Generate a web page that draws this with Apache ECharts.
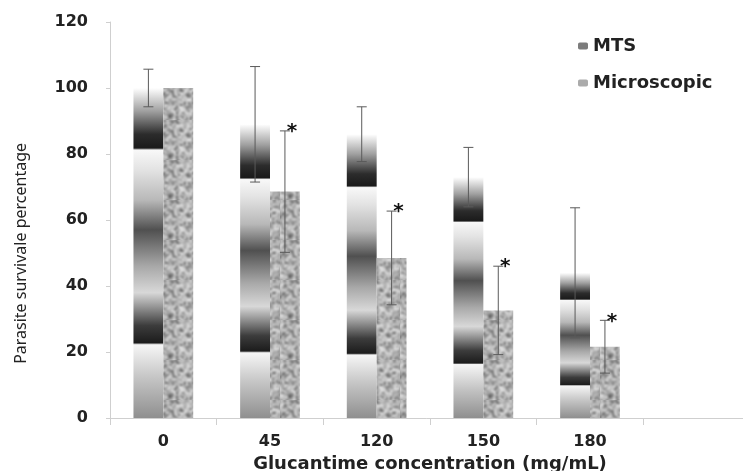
<!DOCTYPE html>
<html>
<head>
<meta charset="utf-8">
<script src="https://cdn.jsdelivr.net/npm/echarts@6/dist/echarts.min.js"></script>
<style>html,body{margin:0;padding:0;background:#fff}#c{width:743px;height:471px}</style>
</head>
<body>
<div id="c"></div>
<script>
// ---- data ----
var categories = ['0', '45', '120', '150', '180', ''];
var mtsValues = [100, 89, 86, 73, 44];
var mtsSD = [5.7, 17.5, 8.3, 9, 19.7];
var microValues = [100, 68.6, 48.5, 32.6, 21.6];
var microSD = [0, 18.4, 14.2, 13.4, 8];
var microSignificant = [false, true, true, true, true];
var yTicks = { min: 0, max: 120, interval: 20 };

// ---- styles ----
var CAT_GAP = 0.44;
var mtsGradient = {
  type: 'linear', x: 0, y: 1, x2: 0, y2: 0,
  colorStops: [
    { offset: 0, color: '#8f8f8f' },
    { offset: 0.12, color: '#c4c4c4' },
    { offset: 0.222, color: '#f6f6f6' },
    { offset: 0.228, color: '#1c1c1c' },
    { offset: 0.28, color: '#3c3c3c' },
    { offset: 0.38, color: '#d8d8d8' },
    { offset: 0.46, color: '#a8a8a8' },
    { offset: 0.57, color: '#505050' },
    { offset: 0.66, color: '#b8b8b8' },
    { offset: 0.75, color: '#e2e2e2' },
    { offset: 0.812, color: '#f8f8f8' },
    { offset: 0.818, color: '#1a1a1a' },
    { offset: 0.86, color: '#2c2c2c' },
    { offset: 0.93, color: '#a0a0a0' },
    { offset: 1, color: '#ffffff' }
  ]
};

function makeSpeckle() {
  var raw = document.createElement('canvas');
  raw.width = 60; raw.height = 60;
  var ctx = raw.getContext('2d');
  var s = 12345;
  function rnd() { s = (s * 1103515245 + 12345) & 0x7fffffff; return s / 0x7fffffff; }
  ctx.fillStyle = '#b2b2b2';
  ctx.fillRect(0, 0, 60, 60);
  for (var y = 0; y < 60; y += 2) {
    for (var x = 0; x < 60; x += 2) {
      var r = rnd();
      var g = r < 0.18 ? Math.round(95 + r * 200) : Math.round(150 + (r - 0.18) * 95);
      ctx.fillStyle = 'rgb(' + g + ',' + g + ',' + g + ')';
      ctx.fillRect(x, y, 2, 2);
    }
  }
  var cv = document.createElement('canvas');
  cv.width = 40; cv.height = 40;
  var c2 = cv.getContext('2d');
  c2.filter = 'blur(0.8px)';
  c2.drawImage(raw, -10, -10);
  return cv;
}
var speckle = makeSpeckle();

function errorItem(side, flags) {
  return function (params, api) {
    var i = api.value(0);
    var v = api.value(1);
    var sd = api.value(2);
    var band = api.size([1, 0])[0];
    var bw = band * (1 - CAT_GAP) / 2;
    var c = api.coord([i, v]);
    var x = c[0] + side * bw / 2;
    var hi = api.coord([i, v + sd])[1];
    var lo = api.coord([i, v - sd])[1];
    var cap = 5;
    var st = { stroke: '#5a5a5a', lineWidth: 1 };
    var children = [];
    if (sd > 0) {
      children.push({ type: 'line', shape: { x1: x, y1: hi, x2: x, y2: lo }, style: st });
      children.push({ type: 'line', shape: { x1: x - cap, y1: hi, x2: x + cap, y2: hi }, style: st });
      children.push({ type: 'line', shape: { x1: x - cap, y1: lo, x2: x + cap, y2: lo }, style: st });
    }
    if (flags && flags[i]) {
      children.push({
        type: 'text',
        style: {
          text: '*', x: x + 7, y: hi + 1,
          font: 'bold 20px "DejaVu Sans"', fill: '#111',
          align: 'center', verticalAlign: 'middle'
        }
      });
    }
    return { type: 'group', children: children };
  };
}

var mtsErr = mtsValues.map(function (v, i) { return [i, v, mtsSD[i]]; });
var microErr = microValues.map(function (v, i) { return [i, v, microSD[i]]; });

var chart = echarts.init(document.getElementById('c'), null, { renderer: 'canvas' });
chart.setOption({
  backgroundColor: '#ffffff',
  animation: false,
  grid: { left: 110, top: 22, bottom: 53, right: -7, containLabel: false, outerBoundsMode: 'none' },
  legend: {
    orient: 'vertical', left: 573, top: 32, itemWidth: 10, itemHeight: 7, itemGap: 19,
    textStyle: { fontFamily: 'DejaVu Sans', fontWeight: 'bold', fontSize: 18, color: '#222' },
    data: [
      { name: 'MTS', itemStyle: { color: '#7c7c7c' } },
      { name: 'Microscopic', itemStyle: { color: '#ababab' } }
    ]
  },
  xAxis: {
    type: 'category', data: categories,
    name: 'Glucantime concentration (mg/mL)', nameLocation: 'middle', nameGap: 34,
    nameTextStyle: { fontFamily: 'DejaVu Sans', fontWeight: 'bold', fontSize: 18, color: '#222' },
    axisLine: { lineStyle: { color: '#cfcfcf' } },
    axisTick: { show: true, length: 7, lineStyle: { color: '#cfcfcf' } },
    axisLabel: { margin: 16, fontFamily: 'DejaVu Sans', fontWeight: 'bold', fontSize: 16, color: '#222' },
    splitLine: { show: false }
  },
  yAxis: {
    type: 'value', min: yTicks.min, max: yTicks.max, interval: yTicks.interval,
    axisLine: { show: true, lineStyle: { color: '#cfcfcf' } },
    axisTick: { show: true, length: 4, lineStyle: { color: '#cfcfcf' } },
    axisLabel: { margin: 22, fontFamily: 'DejaVu Sans', fontWeight: 'bold', fontSize: 16, color: '#222' },
    splitLine: { show: false }
  },
  graphic: [{
    type: 'text', left: 13, top: 143, rotation: Math.PI / 2,
    style: { text: 'Parasite survivale percentage', font: '16px "Noto Sans"', fill: '#222' }
  }],
  series: [
    {
      name: 'MTS', type: 'bar', data: mtsValues, barGap: '0%', barCategoryGap: (CAT_GAP * 100) + '%',
      itemStyle: { color: mtsGradient }
    },
    {
      name: 'Microscopic', type: 'bar', data: microValues, barGap: '0%', barCategoryGap: (CAT_GAP * 100) + '%',
      itemStyle: { color: { image: speckle, repeat: 'repeat' } }
    },
    {
      name: 'mtsErr', type: 'custom', data: mtsErr, renderItem: errorItem(-1, null),
      z: 10, silent: true, encode: { x: 0, y: 1 }
    },
    {
      name: 'microErr', type: 'custom', data: microErr, renderItem: errorItem(1, microSignificant),
      z: 10, silent: true, encode: { x: 0, y: 1 }
    }
  ]
});
</script>
</body>
</html>
